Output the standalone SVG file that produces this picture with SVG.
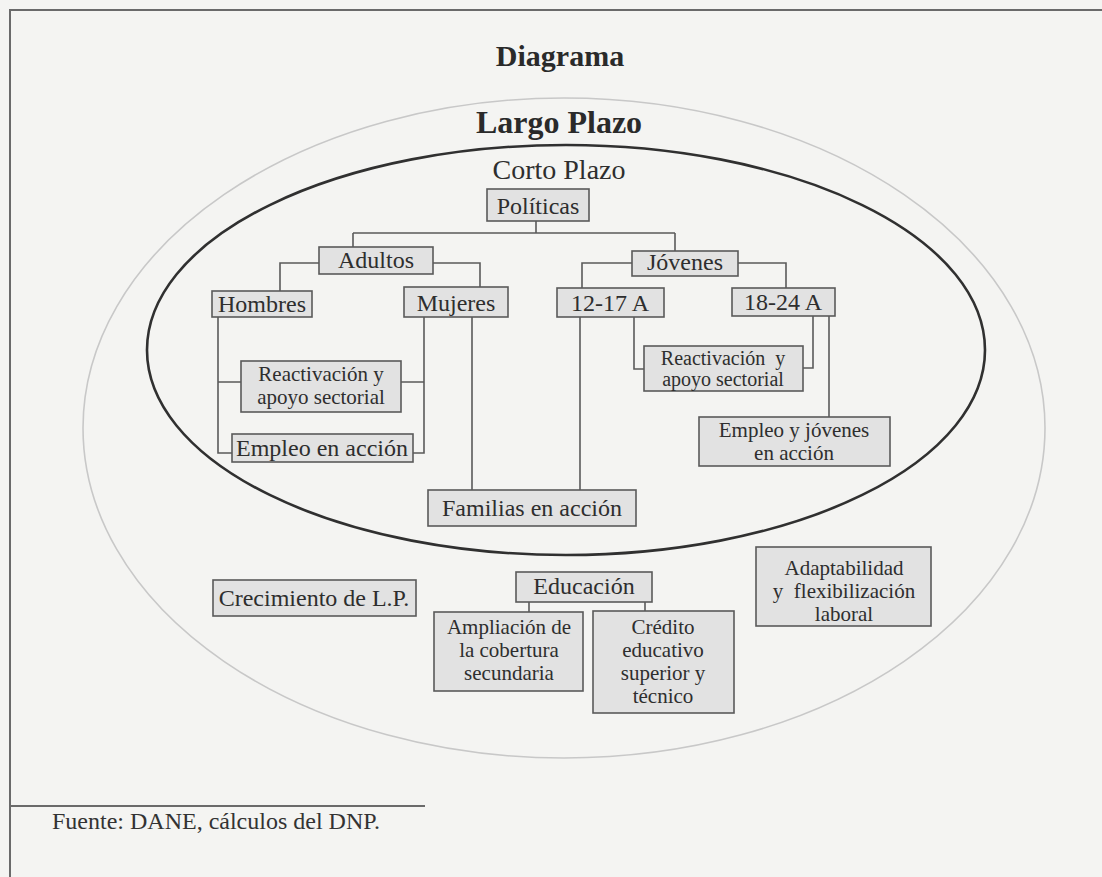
<svg xmlns="http://www.w3.org/2000/svg" width="1102" height="877" viewBox="0 0 1102 877">
<style>
.bx{fill:#e2e2e2;stroke:#5a5a5a;stroke-width:1.6}
.t{font-family:"Liberation Serif","Times New Roman",serif;font-size:24px;fill:#2e2e2e;text-anchor:middle}
.m{font-family:"Liberation Serif","Times New Roman",serif;font-size:20px;fill:#2e2e2e;text-anchor:middle}
.ln{fill:none;stroke:#5a5a5a;stroke-width:1.6}
</style>
<rect x="0" y="0" width="1102" height="877" fill="#f4f4f2"/>
<path d="M10,877 V10 H1102" fill="none" stroke="#6a6a6a" stroke-width="2"/>
<text x="560" y="66" style="font-family:'Liberation Serif',serif;font-weight:bold;font-size:30px;fill:#2a2a2a" text-anchor="middle">Diagrama</text>
<g id="largo-plazo">
<ellipse cx="564" cy="428" rx="481" ry="330" fill="none" stroke="#c8c8c8" stroke-width="1.6"/>
<text x="559" y="133" style="font-family:'Liberation Serif',serif;font-weight:bold;font-size:32px;fill:#2a2a2a" text-anchor="middle">Largo Plazo</text>
</g>
<g id="corto-plazo">
<ellipse cx="566" cy="350" rx="419" ry="205" fill="none" stroke="#303030" stroke-width="2.6"/>
<text x="559" y="179" style="font-family:'Liberation Serif',serif;font-size:28px;fill:#2e2e2e" text-anchor="middle">Corto Plazo</text>
</g>
<g id="connectors">
<path class="ln" d="M536,221 V233 M353,233 H675 M353,233 V247 M675,233 V251"/>
<path class="ln" d="M319,263 H280 V291 M433,263 H480 V287"/>
<path class="ln" d="M218,317 V453 H232 M218,382 H241"/>
<path class="ln" d="M424,317 V453 H413 M424,382 H401 M472,317 V490"/>
<path class="ln" d="M632,263 H582 V288 M738,263 H786 V288"/>
<path class="ln" d="M580,317 V490 M634,317 V369 H644"/>
<path class="ln" d="M813,316 V368 H803 M829,316 V417"/>
<path class="ln" d="M529,602 V612 M645,602 V611"/>
</g>
<g id="politicas"><rect class="bx" x="487" y="189" width="102" height="32"/><text class="t" x="538" y="214">Políticas</text></g>
<g id="adultos"><rect class="bx" x="319" y="247" width="114" height="27"/><text class="t" x="376" y="268">Adultos</text></g>
<g id="jovenes"><rect class="bx" x="632" y="251" width="106" height="25"/><text class="t" x="685" y="270">Jóvenes</text></g>
<g id="hombres"><rect class="bx" x="212" y="291" width="100" height="26"/><text class="t" x="262" y="312">Hombres</text></g>
<g id="mujeres"><rect class="bx" x="404" y="287" width="104" height="30"/><text class="t" x="456" y="311">Mujeres</text></g>
<g id="a12-17"><rect class="bx" x="557" y="288" width="107" height="29"/><text class="t" x="610" y="311">12-17 A</text></g>
<g id="a18-24"><rect class="bx" x="732" y="288" width="103" height="28"/><text class="t" x="783" y="310">18-24 A</text></g>
<g id="reactivacion-adultos"><rect class="bx" x="241" y="361" width="160" height="51"/><text class="m" x="321" y="381" style="font-size:21px">Reactivación y</text><text class="m" x="321" y="404" style="font-size:21px">apoyo sectorial</text></g>
<g id="empleo-accion"><rect class="bx" x="232" y="434" width="181" height="28"/><text class="t" x="322" y="456">Empleo en acción</text></g>
<g id="reactivacion-jovenes"><rect class="bx" x="644" y="346" width="159" height="45"/><text class="m" x="723" y="365" xml:space="preserve">Reactivación  y</text><text class="m" x="723" y="386">apoyo sectorial</text></g>
<g id="empleo-jovenes"><rect class="bx" x="699" y="417" width="191" height="49"/><text class="m" x="794" y="437" style="font-size:21px">Empleo y jóvenes</text><text class="m" x="794" y="460" style="font-size:21px">en acción</text></g>
<g id="familias"><rect class="bx" x="428" y="490" width="208" height="36"/><text class="t" x="532" y="516">Familias en acción</text></g>
<g id="crecimiento"><rect class="bx" x="213" y="580" width="203" height="36"/><text class="t" x="314" y="606">Crecimiento de L.P.</text></g>
<g id="educacion"><rect class="bx" x="516" y="572" width="136" height="30"/><text class="t" x="584" y="594">Educación</text></g>
<g id="ampliacion"><rect class="bx" x="434" y="612" width="149" height="79"/><text class="m" x="509" y="634" style="font-size:21px">Ampliación de</text><text class="m" x="509" y="657" style="font-size:21px">la cobertura</text><text class="m" x="509" y="680" style="font-size:21px">secundaria</text></g>
<g id="credito"><rect class="bx" x="593" y="611" width="141" height="102"/><text class="m" x="663" y="634" style="font-size:21px">Crédito</text><text class="m" x="663" y="657" style="font-size:21px">educativo</text><text class="m" x="663" y="680" style="font-size:21px">superior y</text><text class="m" x="663" y="703" style="font-size:21px">técnico</text></g>
<g id="adaptabilidad"><rect class="bx" x="756" y="547" width="175" height="79"/><text class="m" x="844" y="575" style="font-size:21px">Adaptabilidad</text><text class="m" x="844" y="598" xml:space="preserve" style="font-size:21px">y  flexibilización</text><text class="m" x="844" y="621" style="font-size:21px">laboral</text></g>
<line x1="10" y1="806" x2="425" y2="806" stroke="#6a6a6a" stroke-width="2"/>
<text x="52" y="829" style="font-family:'Liberation Serif',serif;font-size:24px;fill:#333">Fuente: DANE, cálculos del DNP.</text>
</svg>
